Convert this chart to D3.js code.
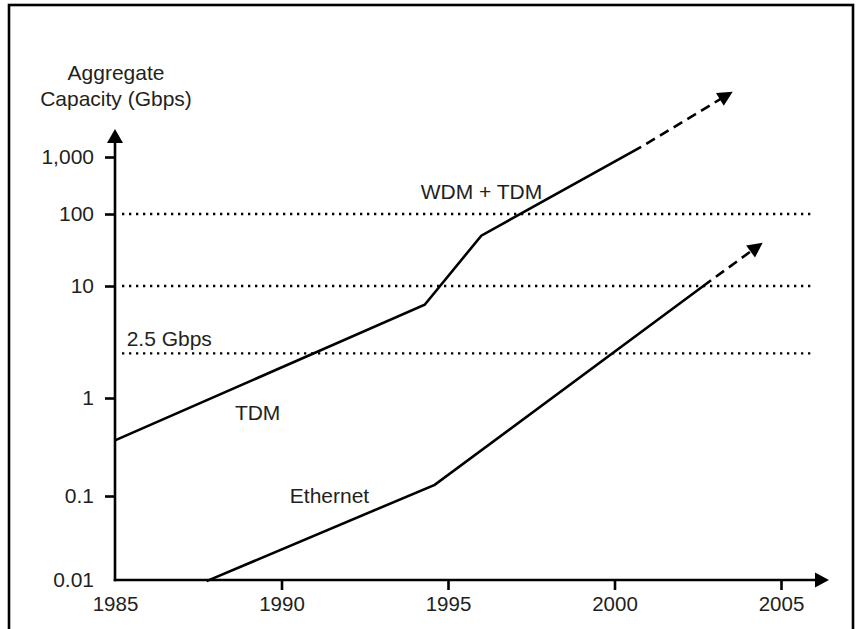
<!DOCTYPE html>
<html>
<head>
<meta charset="utf-8">
<script src="https://cdn.jsdelivr.net/npm/d3@7"></script>
<style>
  html, body { margin: 0; padding: 0; background: #fff; }
  svg { display: block; }
  text { font-family: "Liberation Sans", Arial, Helvetica, sans-serif; fill: #231f20; }
</style>
</head>
<body>
<svg id="chart" width="861" height="629"></svg>
<script>
// Axis ticks
const yearTicks = [1985, 1990, 1995, 2000, 2005];
const capacityTicks = [0.01, 0.1, 1, 10, 100, 1000];
const capacityTickLabels = ["0.01", "0.1", "1", "10", "100", "1,000"];

// Dotted reference levels (Gbps)
const referenceLevels = [100, 10, 2.5];

// TDM, then WDM + TDM (solid), and its projected continuation (dashed)
const tdmYears = [1985, 1994.3, 1996.0, 2000.8];
const tdmValues = [0.37, 6.8, 50, 1500];
const wdmProjYears = [2000.8, 2003.55];
const wdmProjValues = [1500, 14000];

// Ethernet (solid) and projection (dashed)
const ethYears = [1987.75, 1994.6, 2002.9];
const ethValues = [0.0097, 0.13, 12];
const ethProjYears = [2002.9, 2004.45];
const ethProjValues = [12, 40];

// Text annotations
const annotations = [
  { text: "2.5 Gbps", year: 1985.35, value: 2.5, dy: -7 },
  { text: "TDM", year: 1988.6, value: 0.6, dy: 0 },
  { text: "WDM + TDM", year: 1994.18, value: 180, dy: 0 },
  { text: "Ethernet", year: 1990.25, value: 0.082, dy: 0 }
];

const svg = d3.select("#chart");
const fontSize = 21;

// Outer frame
svg.append("rect")
  .attr("x", 9).attr("y", 5)
  .attr("width", 844).attr("height", 640)
  .attr("fill", "none").attr("stroke", "#000").attr("stroke-width", 2.6);

const x = d3.scaleLinear().domain([1985, 2005]).range([115, 781]);
// Piecewise log scale: each decade has its own span on the axis
const y = d3.scaleLog().domain(capacityTicks).range([580, 496, 398, 286, 214, 157]);

const axisX0 = x(1985), axisY0 = y(0.01);
const lineW = 2.6;

// Dotted horizontal reference lines
svg.append("g").selectAll("line").data(referenceLevels).join("line")
  .attr("x1", axisX0 + 7).attr("x2", 812)
  .attr("y1", d => y(d)).attr("y2", d => y(d))
  .attr("stroke", "#000").attr("stroke-width", 2.3)
  .attr("stroke-dasharray", "2.3 4.7");

// Y axis
const yAxis = d3.axisLeft(y)
  .tickValues(capacityTicks)
  .tickFormat((d, i) => capacityTickLabels[i])
  .tickSize(10).tickPadding(11);
const gy = svg.append("g").attr("transform", `translate(${axisX0},0)`).call(yAxis);
gy.select(".domain").remove();
gy.selectAll(".tick line").attr("stroke", "#000").attr("stroke-width", lineW)
  .filter(d => d === 0.01).remove();
gy.selectAll(".tick text").attr("font-size", fontSize).attr("fill", "#231f20")
  .style("font-family", "Liberation Sans, Arial, sans-serif");

// X axis
const xAxis = d3.axisBottom(x).tickValues(yearTicks).tickFormat(d3.format("d"))
  .tickSize(10).tickPadding(6.5);
const gx = svg.append("g").attr("transform", `translate(0,${axisY0})`).call(xAxis);
gx.select(".domain").remove();
gx.selectAll(".tick line").attr("stroke", "#000").attr("stroke-width", lineW)
  .filter(d => d === 1985).remove();
gx.selectAll(".tick text").attr("font-size", 20.5).attr("fill", "#231f20")
  .style("font-family", "Liberation Sans, Arial, sans-serif");

// Filled arrowhead with its tip at (tx, ty), pointing along angle a
function arrowHead(tx, ty, a, len = 15, half = 7.5) {
  const bx = tx - len * Math.cos(a), by = ty - len * Math.sin(a);
  const px = -Math.sin(a) * half, py = Math.cos(a) * half;
  svg.append("path")
    .attr("d", `M${tx},${ty}L${bx + px},${by + py}L${bx - px},${by - py}Z`)
    .attr("fill", "#000");
}

// Axis lines with arrows
const yTop = 129, xRight = 829;
svg.append("line").attr("x1", axisX0).attr("x2", axisX0)
  .attr("y1", axisY0 + lineW / 2).attr("y2", yTop + 12)
  .attr("stroke", "#000").attr("stroke-width", lineW);
arrowHead(axisX0, yTop, -Math.PI / 2, 14, 8);
svg.append("line").attr("x1", axisX0 - lineW / 2).attr("x2", xRight - 12)
  .attr("y1", axisY0).attr("y2", axisY0)
  .attr("stroke", "#000").attr("stroke-width", lineW);
arrowHead(xRight, axisY0, 0, 14, 7.5);

// Axis title
const title = svg.append("text").attr("x", axisX0 + 1).attr("text-anchor", "middle")
  .attr("font-size", fontSize);
title.append("tspan").attr("x", axisX0 + 1).attr("y", 80).text("Aggregate");
title.append("tspan").attr("x", axisX0 + 1).attr("y", 106).text("Capacity (Gbps)");

// Series
const line = d3.line().x(d => x(d[0])).y(d => y(d[1]));
const zipped = (xs, vs) => xs.map((v, i) => [v, vs[i]]);

function solid(xs, vs) {
  svg.append("path").datum(zipped(xs, vs)).attr("d", line)
    .attr("fill", "none").attr("stroke", "#000").attr("stroke-width", lineW)
    .attr("stroke-linejoin", "miter");
}

function projection(xs, vs) {
  const pts = zipped(xs, vs).map(d => [x(d[0]), y(d[1])]);
  const [p0, p1] = pts;
  const a = Math.atan2(p1[1] - p0[1], p1[0] - p0[0]);
  const len = 15;
  const end = [p1[0] - (len - 1) * Math.cos(a), p1[1] - (len - 1) * Math.sin(a)];
  svg.append("path").attr("d", `M${p0[0]},${p0[1]}L${end[0]},${end[1]}`)
    .attr("fill", "none").attr("stroke", "#000").attr("stroke-width", lineW)
    .attr("stroke-dasharray", "10 6").attr("stroke-dashoffset", -6);
  arrowHead(p1[0], p1[1], a, len, 7.5);
}

solid(tdmYears, tdmValues);
projection(wdmProjYears, wdmProjValues);
solid(ethYears, ethValues);
projection(ethProjYears, ethProjValues);

// Annotations
svg.append("g").selectAll("text").data(annotations).join("text")
  .attr("x", d => x(d.year))
  .attr("y", d => y(d.value) + d.dy)
  .attr("font-size", fontSize)
  .text(d => d.text);
</script>
</body>
</html>
